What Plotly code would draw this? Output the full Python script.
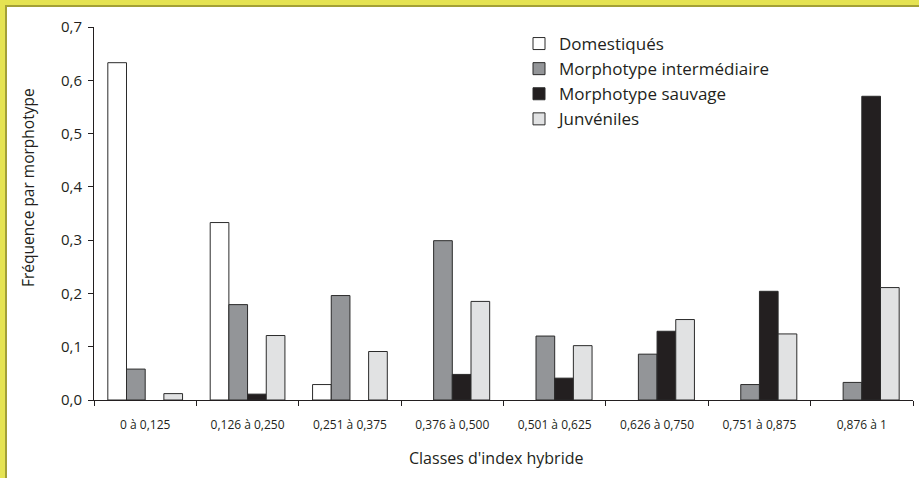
import plotly.graph_objects as go

categories = ["0 à 0,125", "0,126 à 0,250", "0,251 à 0,375", "0,376 à 0,500",
              "0,501 à 0,625", "0,626 à 0,750", "0,751 à 0,875", "0,876 à 1"]
domestiques = [0.633, 0.333, 0.029, None, None, None, None, None]
intermediaire = [0.058, 0.179, 0.196, 0.299, 0.120, 0.086, 0.029, 0.033]
sauvage = [None, 0.011, None, 0.048, 0.041, 0.129, 0.204, 0.570]
juveniles = [0.012, 0.121, 0.091, 0.185, 0.102, 0.151, 0.124, 0.211]

series = [
    ("Domestiqués", domestiques, "#ffffff"),
    ("Morphotype intermédiaire", intermediaire, "#939598"),
    ("Morphotype sauvage", sauvage, "#231f20"),
    ("Junvéniles", juveniles, "#e1e2e3"),
]

FONT = "Open Sans"
W, H = 919, 478
L, R, T, B = 94, 6, 27, 78

fig = go.Figure()
for name, vals, col in series:
    fig.add_trace(go.Bar(
        x=categories, y=vals, name=name,
        marker=dict(color=col, line=dict(color="#2b2b2b", width=1)),
    ))

pw = W - L - R
ph = H - T - B

def px_x(p):
    return (p - L) / pw

def px_y(p):
    return (H - B - p) / ph

fig.update_layout(
    width=W, height=H,
    margin=dict(l=L, r=R, t=T, b=B),
    paper_bgcolor="white", plot_bgcolor="white",
    barmode="group", bargap=0.27, bargroupgap=0,
    separators=", ",
    font=dict(family=FONT, color="#231f20"),
    showlegend=True,
    legend=dict(x=px_x(519), y=px_y(26), xanchor="left", yanchor="top",
                font=dict(size=17, family=FONT, color="#231f20"),
                bgcolor="rgba(0,0,0,0)", tracegroupgap=0, itemwidth=30),
    xaxis=dict(
        showline=True, linecolor="#231f20", linewidth=1,
        ticks="outside", ticklen=5, tickcolor="#231f20", tickson="boundaries",
        tickfont=dict(size=12, family=FONT, color="#231f20"),
        ticklabelstandoff=14,
        showgrid=False, zeroline=False, fixedrange=True,
    ),
    yaxis=dict(
        range=[0, 0.7], dtick=0.1, tickformat=".1f",
        showline=True, linecolor="#231f20", linewidth=1,
        ticks="outside", ticklen=5, tickcolor="#231f20",
        tickfont=dict(size=15, family=FONT, color="#231f20"),
        ticklabelstandoff=3,
        showgrid=False, zeroline=False, fixedrange=True,
    ),
    shapes=[
        dict(type="rect", xref="paper", yref="paper",
             x0=px_x(0), x1=px_x(5), y0=px_y(H), y1=px_y(0),
             fillcolor="#e5e352", line=dict(width=0), layer="above"),
        dict(type="rect", xref="paper", yref="paper",
             x0=px_x(0), x1=px_x(W), y0=px_y(5), y1=px_y(0),
             fillcolor="#e5e352", line=dict(width=0), layer="above"),
        dict(type="rect", xref="paper", yref="paper",
             x0=px_x(5), x1=px_x(7), y0=px_y(H), y1=px_y(5),
             fillcolor="#a3a036", line=dict(width=0), layer="above"),
        dict(type="rect", xref="paper", yref="paper",
             x0=px_x(5), x1=px_x(W), y0=px_y(7), y1=px_y(5),
             fillcolor="#a3a036", line=dict(width=0), layer="above"),
    ],
    annotations=[
        dict(text="Classes d'index hybride", xref="paper", yref="paper",
             x=px_x(496), y=px_y(458), xanchor="center", yanchor="middle",
             showarrow=False,
             font=dict(size=16, family=FONT, color="#231f20")),
        dict(text="Fréquence par morphotype", xref="paper", yref="paper",
             x=px_x(28), y=px_y(188), xanchor="center", yanchor="middle",
             showarrow=False, textangle=-90,
             font=dict(size=15.5, family=FONT, color="#231f20")),
    ],
)

fig.write_html("out.html",
               config={"displayModeBar": False},
               post_script="document.body.style.margin='0';document.body.style.overflow='hidden';")
